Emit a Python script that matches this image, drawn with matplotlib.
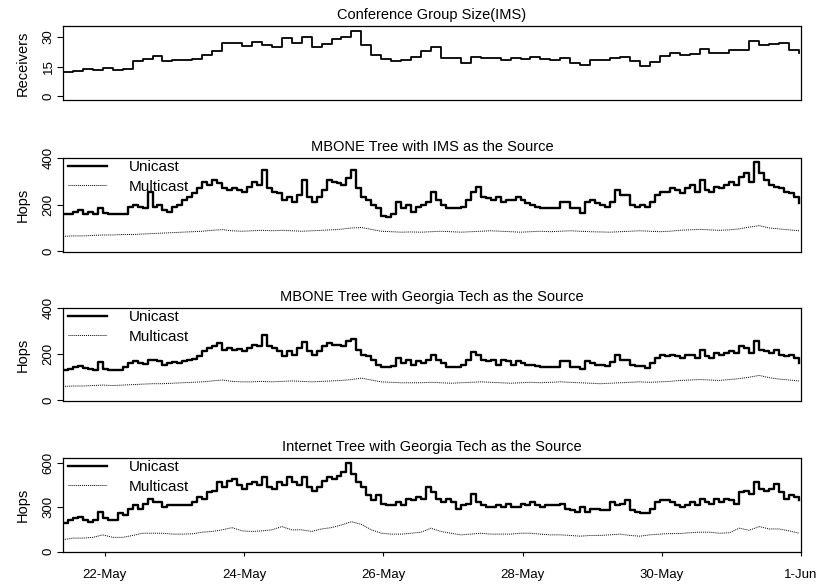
import matplotlib
matplotlib.use("Agg")
import matplotlib.pyplot as plt
import numpy as np

plt.rcParams['font.family'] = ['Liberation Sans', 'DejaVu Sans']

# time axis in days counted from 22-May 00:00
t_start = -0.6
tick_days = [0, 2, 4, 6, 8, 10]
tick_labels = ["22-May", "24-May", "26-May", "28-May", "30-May", "1-Jun"]

# conference group size, one value per 1/7 day
receivers = [12, 12.5, 14, 13, 14.5, 13, 14, 18, 19, 20.5, 18, 18.4, 18.4, 18.8, 21, 22.7,
             27, 27, 25.5, 27.5, 26, 25, 29.5, 27, 30, 25, 26.5, 29, 30, 33, 26, 21, 19, 18,
             18.5, 20,
             22.7, 25, 19.5, 19.3, 17, 20, 19.5, 19.3, 18.4, 19.3, 19, 20, 18.8, 18.5, 19.5,
             17, 16, 18.4, 18.4, 19.3, 20, 18, 15.5, 17.5, 20.5, 21.8, 21, 21.5, 24, 22,
             21.8, 23.5, 23.5, 28, 26, 26.5, 27, 23.5, 22]

# unicast hops, one value per 1/14 day
ims_unicast = [160, 162, 169, 176, 162, 169, 162, 184, 165, 159, 159, 162, 162, 191, 198, 191,
               184, 255, 191, 198, 176, 169, 191, 198, 219, 234, 248, 270, 298, 284, 305, 291,
               270, 262, 270, 262, 255, 277, 298, 284, 348, 270, 255, 248, 219, 234, 212, 241,
               305, 234, 212, 234, 262, 305, 298, 291, 284, 313, 348, 270, 234, 219, 198, 184,
               150, 145, 162, 212, 184, 198, 169, 191,
               198, 212, 255, 219, 198, 184, 184, 184, 191, 219, 255, 277, 234, 227, 219, 234,
               212, 219, 219, 234, 219, 208, 198, 191, 184, 184, 184, 184, 212, 212, 184, 184,
               165, 212, 219, 205, 198, 191, 212, 262, 241, 241, 198, 191, 198, 191, 212, 241,
               255, 255, 270, 262, 248, 270, 284, 255, 305, 262, 255, 277, 270, 284, 298, 284,
               320, 334, 298, 384, 334, 305, 284, 277, 270, 255, 248, 234, 205]

gt_mbone_unicast = [130, 136, 144, 150, 140, 136, 133, 165, 136, 133, 133, 133, 144, 162, 169,
                    162, 159, 173, 176, 169, 155, 162, 165, 162, 169, 176, 179, 191, 212, 227,
                    234, 248, 219, 227, 219, 222, 212, 227, 241, 234, 284, 234, 227, 212, 191,
                    212, 198, 227, 251, 212, 198, 212, 234, 248, 241, 241, 234, 256, 266, 219,
                    198, 191, 176, 155, 144, 144, 150, 183, 162, 176, 155, 169,
                    162, 176, 198, 176, 162, 144, 144, 144, 155, 176, 208, 198, 176, 169, 176,
                    155, 176, 169, 155, 169, 162, 155, 155, 150, 144, 144, 144, 144, 169, 169,
                    144, 144, 136, 169, 162, 155, 155, 150, 165, 198, 176, 176, 155, 147, 150,
                    140, 162, 183, 198, 191, 198, 191, 183, 198, 198, 183, 219, 191, 183, 205,
                    198, 205, 212, 205, 234, 227, 205, 256, 219, 212, 205, 219, 198, 191, 198,
                    183, 162]

inet_unicast = [191, 213, 224, 236, 213, 202, 213, 269, 224, 213, 213, 258, 247, 291, 313, 291,
                324, 358, 336, 336, 302, 313, 313, 313, 316, 318, 336, 369, 358, 402, 413, 469,
                436, 480, 491, 447, 424, 458, 469, 447, 502, 436, 424, 469, 447, 502, 469, 447,
                502, 436, 413, 436, 480, 502, 491, 513, 536, 602, 524, 469, 436, 380, 347, 380,
                325, 313, 313, 336, 313, 358, 347, 369, 358, 436, 402, 358, 336, 358, 336, 291,
                313, 324, 391, 336, 313, 302, 302, 313, 302, 324, 302, 302, 324, 313, 336, 313,
                302, 313, 313, 313, 324, 291, 280, 269, 302, 269, 291, 291, 280, 280, 336, 313,
                324, 347, 280, 269, 258, 258, 291, 336, 347, 347, 336, 313, 302, 313, 336, 313,
                358, 336, 324, 358, 336, 358, 347, 324, 402, 413, 391, 469, 424, 413, 424, 458,
                402, 358, 380, 369, 347]

# multicast hops, one value per 1/7 day
ims_multicast = [64, 66, 66, 68, 70, 70, 72, 72, 74, 76, 78, 80, 82, 84, 86, 90, 93, 88, 86, 88,
                 90, 88, 90, 88, 86, 88, 90, 92, 95, 100, 102, 94, 86, 84, 82, 83,
                 82, 84, 86, 84, 82, 84, 86, 88, 86, 84, 82, 84, 86, 84, 86, 88, 86, 84, 83, 82,
                 84, 86, 88, 86, 84, 86, 90, 92, 94, 92, 90, 92, 96, 104, 110, 100, 96, 92, 88]

gt_mbone_multicast = [60, 62, 62, 64, 66, 64, 66, 68, 70, 72, 72, 74, 76, 78, 80, 84, 88, 82,
                      80, 80, 82, 80, 82, 84, 82, 80, 82, 84, 86, 90, 96, 88, 80, 78, 76, 76,
                      76, 78, 76, 74, 76, 78, 80, 78, 76, 74, 76, 78, 76, 78, 80, 78, 76, 74,
                      72, 74, 76, 78, 80, 78, 80, 82, 86, 88, 90, 88, 86, 90, 94, 100, 108, 98,
                      92, 88, 84]

inet_multicast = [80, 91, 91, 96, 113, 96, 96, 109, 124, 124, 124, 118, 118, 120, 131, 136, 147,
                  162, 140,
                  136, 140, 147, 169, 147, 147, 136, 153, 162, 180, 202, 184, 147, 124, 118, 118,
                  124, 131,
                  158, 136, 124, 113, 118, 124, 118, 118, 118, 124, 124, 118, 113, 113, 109, 104,
                  109, 109, 113,
                  118, 109, 104, 113, 118, 122, 122, 127, 131, 131, 124, 127, 158, 144, 169, 153,
                  153, 140, 124]

titles = ["Conference Group Size(IMS)",
          "MBONE Tree with IMS as the Source",
          "MBONE Tree with Georgia Tech as the Source",
          "Internet Tree with Georgia Tech as the Source"]


def times(values, per_day):
    return t_start + np.arange(len(values)) / per_day


fig = plt.figure(figsize=(8.21, 5.85), dpi=100)
left, width = 63 / 821, 738 / 821
boxes = [(26, 100), (158, 252), (308, 401), (458, 552)]
axes = []
for top, bottom in boxes:
    ax = fig.add_axes([left, 1 - bottom / 585, width, (bottom - top) / 585])
    axes.append(ax)

# panel 1
ax = axes[0]
ax.plot(times(receivers, 7), receivers, color='black', lw=1.3, drawstyle='steps-post')
ax.set_ylim(-2, 35.6)
ax.set_yticks([0, 15, 30])
ax.set_ylabel("Receivers", fontsize=10.5, labelpad=9)

pairs = [(ims_unicast, ims_multicast), (gt_mbone_unicast, gt_mbone_multicast),
         (inet_unicast, inet_multicast)]
ylims = [(-3, 400), (-3, 400), (-3, 633)]
yticks = [[0, 200, 400], [0, 200, 400], [0, 300, 600]]
for ax, (uni, multi), yl, yt in zip(axes[1:], pairs, ylims, yticks):
    ax.plot(times(uni, 14), uni, color='black', lw=1.7, drawstyle='steps-post', label="Unicast")
    ax.plot(times(multi, 7), multi, color='black', lw=0.7, ls=(0, (1, 1)),
            label="Multicast")
    ax.set_ylim(*yl)
    ax.set_yticks(yt)
    ax.set_ylabel("Hops", fontsize=10.5, labelpad=9)
    leg = ax.legend(loc='upper left', frameon=False, fontsize=11, handlelength=2.6,
                    handletextpad=1.4, labelspacing=0.35, borderaxespad=0.0,
                    bbox_to_anchor=(-0.002, 1.04))

for ax, title in zip(axes, titles):
    ax.set_xlim(t_start, 10)
    ax.set_title(title, fontsize=10.5, pad=5)
    for s in ax.spines.values():
        s.set_linewidth(0.9)
    ax.tick_params(axis='y', direction='out', length=4, width=0.8, labelsize=9.5, pad=2)
    for lab in ax.get_yticklabels():
        lab.set_rotation(90)
        lab.set_va('center')
    if ax is axes[-1]:
        ax.set_xticks(tick_days)
        ax.set_xticklabels(tick_labels)
        ax.tick_params(axis='x', direction='out', length=3, width=0.8, labelsize=9.5, pad=9)
    else:
        ax.set_xticks([])

fig.savefig("out.png", dpi=100)
